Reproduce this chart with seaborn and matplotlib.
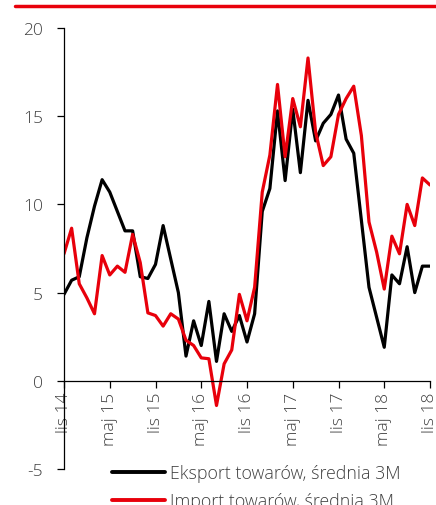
import numpy as np
import pandas as pd
import matplotlib
matplotlib.use("Agg")
import matplotlib.pyplot as plt
import seaborn as sns
from matplotlib.lines import Line2D

# Monthly data Nov 2014 - Nov 2018 (49 months)
eksport = [4.9, 5.7, 5.9, 8.1, 9.9, 11.4, 10.7, 9.6, 8.5, 8.5,
           5.9, 5.8, 6.6, 8.8, 6.9, 5.0, 1.4, 3.4, 2.0, 4.5,
           1.1, 3.8, 2.8, 3.7, 2.2, 3.8, 9.6, 10.9, 15.3, 11.35,
           15.4, 11.8, 15.9, 13.6, 14.6, 15.1, 16.2, 13.7, 12.9, 9.1,
           5.3, 3.6, 1.9, 6.0, 5.5, 7.6, 5.0, 6.5, 6.5]
import_ = [7.2, 8.65, 5.5, 4.7, 3.8, 7.1, 6.0, 6.5, 6.15, 8.3,
           6.7, 3.85, 3.7, 3.1, 3.8, 3.5, 2.3, 2.0, 1.3, 1.25,
           -1.4, 0.96, 1.75, 4.9, 3.4, 5.3, 10.7, 12.8, 16.8, 12.7,
           16.0, 14.4, 18.3, 14.1, 12.2, 12.7, 15.1, 16.0, 16.7, 13.9,
           9.0, 7.3, 5.2, 8.2, 7.2, 10.0, 8.8, 11.5, 11.1]
tick_labels = ["lis 14", "maj 15", "lis 15", "maj 16", "lis 16",
               "maj 17", "lis 17", "maj 18", "lis 18"]
series_names = ["Eksport towarów, średnia 3M", "Import towarów, średnia 3M"]
y_ticks = [-5, 0, 5, 10, 15, 20]

sns.set_theme(style="white")
plt.rcParams["font.family"] = ["Open Sans", "DejaVu Sans"]
plt.rcParams["font.weight"] = "light"

months = np.arange(len(eksport))
df = pd.DataFrame({
    "m": np.concatenate([months, months]),
    "v": eksport + import_,
    "s": [series_names[0]] * len(eksport) + [series_names[1]] * len(import_),
})

W, H = 436, 506
fig = plt.figure(figsize=(W / 100, H / 100), dpi=100)
ax = fig.add_axes([64 / W, 1 - 470 / H, (430 - 64) / W, (470 - 29) / H])

palette = {series_names[0]: "#000000", series_names[1]: "#e8000b"}
sns.lineplot(data=df, x="m", y="v", hue="s", palette=palette, ax=ax,
             linewidth=2.3, legend=False)

ax.set_xlim(0, len(eksport) - 1)
ax.set_ylim(-5, 20)
ax.set_xlabel("")
ax.set_ylabel("")

ax.spines["top"].set_visible(False)
ax.spines["right"].set_visible(False)
ax.spines["bottom"].set_position(("data", 0))
for s in ["left", "bottom"]:
    ax.spines[s].set_color("#000000")
    ax.spines[s].set_linewidth(0.9)

ax.set_yticks(y_ticks)
ax.set_yticklabels([str(t) for t in y_ticks])
ax.set_xticks(np.arange(0, len(eksport), 6))
ax.set_xticklabels(tick_labels, rotation=90, va="top", ha="center")
ax.tick_params(axis="both", which="both", direction="out", length=5,
               width=0.9, color="#000000", labelsize=12.5,
               labelcolor="#404040")
ax.tick_params(axis="y", pad=10)
ax.tick_params(axis="x", pad=3)
ax.yaxis.set_ticks_position("left")
ax.xaxis.set_ticks_position("bottom")
ax.grid(False)

# red header rule
fig.add_artist(Line2D([15 / W, 1.0], [1 - 6.7 / H, 1 - 6.7 / H],
                      color="#e8000b", linewidth=2.5, transform=fig.transFigure))

handles = [Line2D([], [], color=palette[n], linewidth=2.8) for n in series_names]
leg = fig.legend(handles, series_names, loc="upper left",
                 bbox_to_anchor=(112 / W, 1 - 465 / H),
                 frameon=False, fontsize=12.8, handlelength=3.0,
                 handletextpad=0.28, labelspacing=0.55, borderaxespad=0,
                 borderpad=0)
for t in leg.get_texts():
    t.set_color("#404040")

fig.savefig("out.png", dpi=100)
